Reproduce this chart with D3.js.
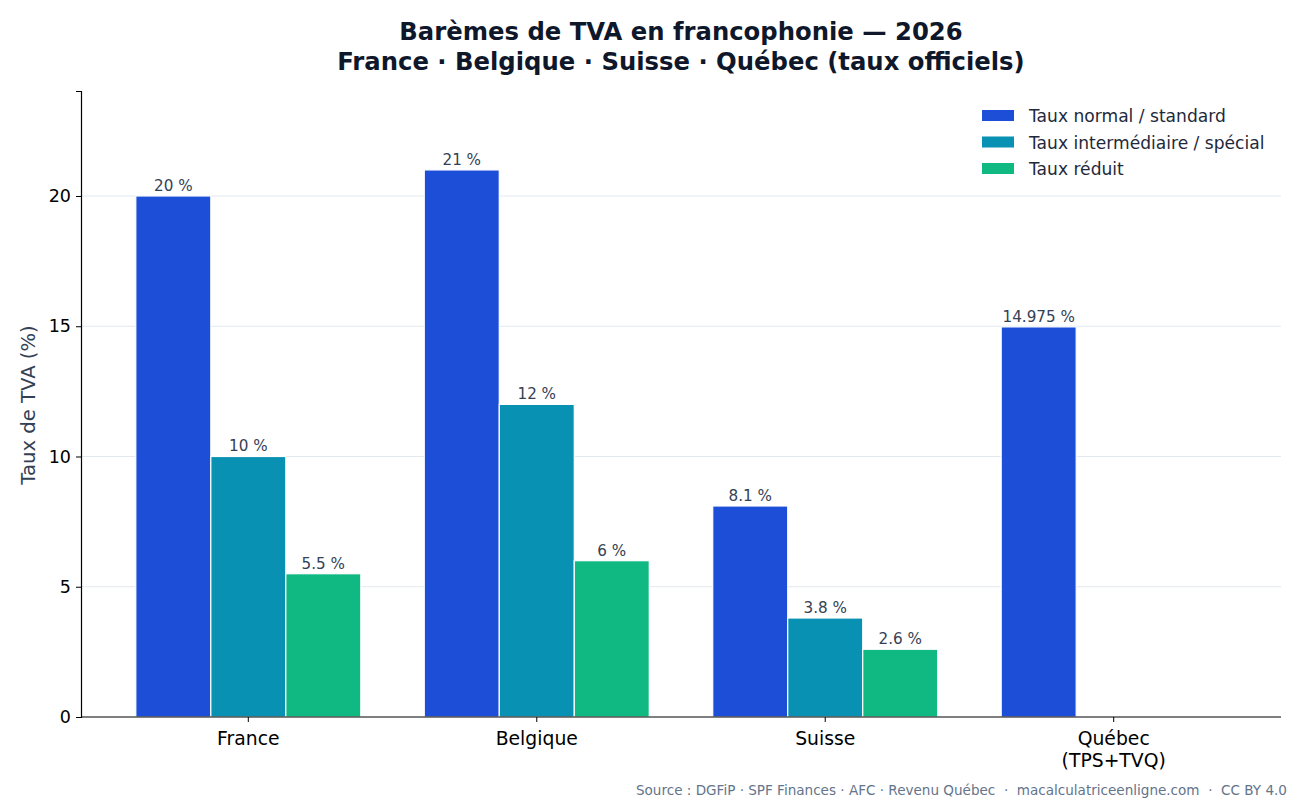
<!DOCTYPE html>
<html>
<head>
<meta charset="utf-8">
<script src="https://cdn.jsdelivr.net/npm/d3@7"></script>
<style>
  body { margin: 0; background: #fff; }
  svg { font-family: "DejaVu Sans", sans-serif; }
</style>
</head>
<body>
<div id="wrapper"></div>
<script>
// data
const countries = ['France', 'Belgique', 'Suisse', 'Québec\n(TPS+TVQ)']
const seriesNames = ['Taux normal / standard', 'Taux intermédiaire / spécial', 'Taux réduit']
const normalRates = [20, 21, 8.1, 14.975]
const intermediateRates = [10, 12, 3.8, null]
const reducedRates = [5.5, 6, 2.6, null]
const yTicks = [0, 5, 10, 15, 20]
const colors = ['#1d4ed8', '#0891b2', '#10b981']

const width = 1300, height = 806
const margin = { top: 91, right: 19, bottom: 89, left: 81 }
const innerW = width - margin.left - margin.right
const innerH = height - margin.top - margin.bottom

const svg = d3.select('#wrapper').append('svg')
    .attr('width', width).attr('height', height)

const bounds = svg.append('g')
    .attr('transform', `translate(${margin.left},${margin.top})`)

// scales
const xScale = d3.scaleLinear().domain([-0.58, 3.58]).range([0, innerW])
const yScale = d3.scaleLinear().domain([0, 24.03]).range([innerH, 0])
const barW = 0.26

// grid
bounds.selectAll('.grid').data(yTicks.filter(d => d > 0))
    .enter().append('line')
    .attr('x1', 0).attr('x2', innerW)
    .attr('y1', d => yScale(d)).attr('y2', d => yScale(d))
    .attr('stroke', '#e2e8f0').attr('stroke-width', 1)

// bars
const series = [normalRates, intermediateRates, reducedRates]
series.forEach((vals, s) => {
    const offset = (s - 1) * barW
    const rows = vals.map((v, i) => ({ v, i })).filter(d => d.v != null)
    bounds.selectAll('.bar-' + s).data(rows)
        .enter().append('rect')
        .attr('class', 'bar-' + s)
        .attr('x', d => xScale(d.i + offset - barW / 2))
        .attr('width', xScale(barW) - xScale(0))
        .attr('y', d => yScale(d.v))
        .attr('height', d => yScale(0) - yScale(d.v))
        .attr('fill', colors[s])
        .attr('stroke', '#fff').attr('stroke-width', 1.2)

    bounds.selectAll('.lbl-' + s).data(rows)
        .enter().append('text')
        .attr('x', d => xScale(d.i + offset))
        .attr('y', d => yScale(d.v) - 5)
        .attr('text-anchor', 'middle')
        .attr('font-size', 15.2)
        .attr('fill', '#334155')
        .text(d => d.v + ' %')
})

// y axis
const yAxis = d3.axisLeft(yScale).tickValues(yTicks).tickSize(5).tickPadding(5)
const yG = bounds.append('g').call(yAxis)
yG.select('.domain').attr('stroke', '#000').attr('stroke-width', 1.2)
yG.selectAll('.tick line').attr('stroke', '#000')
yG.selectAll('text').attr('font-size', 17.5).attr('fill', '#000').attr('font-family', 'DejaVu Sans')

// x axis
const xG = bounds.append('g').attr('transform', `translate(0,${innerH})`)
xG.append('line').attr('x1', 0).attr('x2', innerW).attr('stroke', '#000').attr('stroke-width', 1.2)
const xt = xG.selectAll('.xtick').data(countries).enter().append('g')
    .attr('transform', (d, i) => `translate(${xScale(i)},0)`)
xt.append('line').attr('y2', 5).attr('stroke', '#000')
xt.append('text')
    .attr('text-anchor', 'middle')
    .attr('font-size', 18.8)
    .attr('fill', '#000')
    .selectAll('tspan').data(d => d.split('\n'))
    .enter().append('tspan')
    .attr('x', 0)
    .attr('y', (d, j) => 28 + j * 22)
    .text(d => d)

// y label
svg.append('text')
    .attr('transform', `translate(35,${margin.top + innerH / 2 + 1}) rotate(-90)`)
    .attr('text-anchor', 'middle')
    .attr('font-size', 19.6)
    .attr('fill', '#334155')
    .text('Taux de TVA (%)')

// title
const title = svg.append('text').attr('text-anchor', 'middle')
    .attr('font-size', 24.3).attr('font-weight', 'bold').attr('fill', '#0f172a')
title.append('tspan').attr('x', 681).attr('y', 40).text('Barèmes de TVA en francophonie — 2026')
title.append('tspan').attr('x', 681).attr('y', 70).text('France · Belgique · Suisse · Québec (taux officiels)')

// legend
const legend = svg.append('g').attr('transform', 'translate(982,110)')
const li = legend.selectAll('g').data(seriesNames).enter().append('g')
    .attr('transform', (d, i) => `translate(0,${i * 26.5})`)
li.append('rect').attr('width', 32).attr('height', 11).attr('fill', (d, i) => colors[i])
li.append('text').attr('x', 47).attr('y', 12).attr('font-size', 17.1).attr('fill', '#1e293b').text(d => d)

// source
svg.append('text')
    .attr('x', 1287).attr('y', 795)
    .attr('text-anchor', 'end')
    .attr('font-size', 13.55)
    .attr('fill', '#64748b')
    .style('white-space', 'pre')
    .text('Source : DGFiP · SPF Finances · AFC · Revenu Québec  ·  macalculatriceenligne.com  ·  CC BY 4.0')
</script>
</body>
</html>
